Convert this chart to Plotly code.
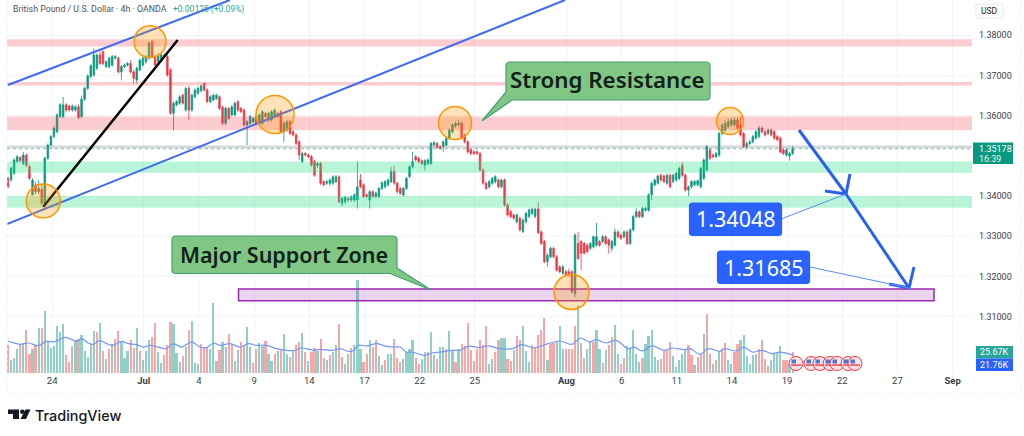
import plotly.graph_objects as go

# ---------- data ----------
opens = [1.3444,1.3440,1.3457,1.3486,1.3496,1.3481,1.3502,1.3473,1.3403,1.3428,1.3411,1.3417,1.3378,1.3494,1.3527,1.3548,1.3560,1.3598,1.3598,1.3627,1.3624,1.3614,1.3614,1.3622,1.3598,1.3641,1.3668,1.3697,1.3701,1.3718,1.3751,1.3759,1.3722,1.3722,1.3726,1.3743,1.3743,1.3709,1.3722,1.3726,1.3730,1.3709,1.3689,1.3714,1.3726,1.3734,1.3743,1.3784,1.3747,1.3734,1.3738,1.3747,1.3747,1.3714,1.3606,1.3627,1.3631,1.3651,1.3614,1.3668,1.3614,1.3647,1.3656,1.3662,1.3680,1.3664,1.3635,1.3639,1.3643,1.3647,1.3621,1.3581,1.3618,1.3602,1.3602,1.3635,1.3618,1.3614,1.3577,1.3581,1.3585,1.3598,1.3581,1.3581,1.3606,1.3589,1.3589,1.3598,1.3606,1.3610,1.3560,1.3564,1.3585,1.3560,1.3552,1.3535,1.3486,1.3506,1.3502,1.3498,1.3486,1.3477,1.3481,1.3436,1.3432,1.3432,1.3432,1.3436,1.3448,
1.3382,1.3386,1.3394,1.3390,1.3390,1.3390,1.3440,1.3428,1.3403,1.3390,1.3411,1.3399,1.3399,1.3419,1.3423,1.3428,1.3436,1.3461,1.3432,1.3419,1.3403,1.3419,1.3449,1.3473,1.3498,1.3494,1.3488,1.3477,1.3481,1.3481,1.3527,1.3531,1.3523,1.3523,1.3527,1.3544,1.3560,1.3574,1.3577,1.3582,1.3552,1.3535,1.3515,1.3510,1.3510,1.3506,1.3465,1.3432,1.3423,1.3432,1.3436,1.3440,1.3423,1.3440,1.3378,1.3361,1.3353,1.3336,1.3345,1.3312,1.3336,1.3349,1.3357,1.3349,1.3368,1.3311,1.3287,1.3237,1.3249,1.3270,1.3249,1.3224,1.3208,1.3212,1.3212,1.3212,1.3158,1.3282,1.3287,1.3282,1.3278,1.3270,1.3274,1.3278,1.3287,1.3287,1.3299,1.3291,1.3270,1.3278,1.3311,1.3303,1.3299,1.3311,1.3282,1.3316,1.3349,1.3361,1.3349,1.3365,1.3365,1.3403,1.3428,1.3432,1.3452,1.3450,1.3432,1.3452,1.3436,1.3440,1.3444,
1.3477,1.3452,1.3415,1.3423,1.3428,1.3428,1.3423,1.3444,1.3465,1.3515,1.3502,1.3498,1.3502,1.3556,1.3564,1.3573,1.3577,1.3577,1.3589,1.3577,1.3556,1.3523,1.3531,1.3535,1.3544,1.3548,1.3569,1.3560,1.3556,1.3564,1.3560,1.3548,1.3544,1.3515,1.3502,1.3500,1.3506]
closes = [1.3423,1.3469,1.3490,1.3498,1.3488,1.3502,1.3476,1.3444,1.3440,1.3411,1.3419,1.3382,1.3494,1.3527,1.3548,1.3569,1.3602,1.3627,1.3627,1.3614,1.3614,1.3624,1.3622,1.3596,1.3641,1.3668,1.3699,1.3724,1.3751,1.3751,1.3730,1.3730,1.3734,1.3743,1.3747,1.3747,1.3709,1.3722,1.3726,1.3730,1.3709,1.3693,1.3718,1.3738,1.3743,1.3747,1.3780,1.3747,1.3726,1.3751,1.3751,1.3751,1.3701,1.3606,1.3631,1.3635,1.3647,1.3631,1.3668,1.3614,1.3651,1.3664,1.3668,1.3674,1.3664,1.3635,1.3647,1.3651,1.3651,1.3618,1.3581,1.3618,1.3593,1.3622,1.3631,1.3614,1.3610,1.3577,1.3585,1.3598,1.3593,1.3581,1.3602,1.3610,1.3598,1.3606,1.3610,1.3614,1.3598,1.3560,1.3581,1.3585,1.3556,1.3552,1.3531,1.3502,1.3506,1.3502,1.3498,1.3477,1.3452,1.3481,1.3432,1.3428,1.3436,1.3440,1.3448,1.3448,1.3386,
1.3394,1.3397,1.3390,1.3398,1.3403,1.3423,1.3423,1.3399,1.3399,1.3411,1.3399,1.3407,1.3419,1.3433,1.3436,1.3440,1.3461,1.3432,1.3411,1.3407,1.3419,1.3444,1.3473,1.3486,1.3490,1.3486,1.3481,1.3488,1.3490,1.3531,1.3533,1.3521,1.3519,1.3535,1.3544,1.3564,1.3577,1.3581,1.3581,1.3544,1.3535,1.3510,1.3506,1.3506,1.3506,1.3465,1.3432,1.3419,1.3436,1.3444,1.3448,1.3423,1.3440,1.3378,1.3353,1.3349,1.3345,1.3353,1.3316,1.3340,1.3357,1.3365,1.3367,1.3367,1.3309,1.3282,1.3237,1.3253,1.3270,1.3249,1.3216,1.3212,1.3224,1.3204,1.3204,1.3162,1.3303,1.3245,1.3258,1.3258,1.3262,1.3282,1.3299,1.3299,1.3278,1.3299,1.3282,1.3278,1.3287,1.3311,1.3299,1.3295,1.3311,1.3282,1.3316,1.3349,1.3361,1.3349,1.3369,1.3369,1.3403,1.3432,1.3440,1.3450,1.3440,1.3436,1.3452,1.3423,1.3452,1.3457,1.3469,
1.3452,1.3415,1.3423,1.3436,1.3436,1.3438,1.3469,1.3490,1.3523,1.3494,1.3498,1.3506,1.3556,1.3577,1.3581,1.3585,1.3589,1.3589,1.3569,1.3552,1.3523,1.3531,1.3535,1.3548,1.3560,1.3569,1.3560,1.3552,1.3564,1.3552,1.3544,1.3540,1.3510,1.3506,1.3515,1.3506,1.3518]
highs = [1.3448,1.3473,1.3494,1.3502,1.3500,1.3510,1.3506,1.3478,1.3444,1.3436,1.3440,1.3430,1.3498,1.3531,1.3552,1.3575,1.3606,1.3631,1.3647,1.3631,1.3628,1.3628,1.3626,1.3628,1.3650,1.3672,1.3703,1.3728,1.3767,1.3755,1.3767,1.3763,1.3738,1.3747,1.3751,1.3751,1.3747,1.3726,1.3730,1.3734,1.3738,1.3714,1.3722,1.3742,1.3747,1.3751,1.3784,1.3788,1.3751,1.3755,1.3755,1.3755,1.3751,1.3718,1.3635,1.3639,1.3651,1.3655,1.3672,1.3674,1.3655,1.3668,1.3672,1.3678,1.3684,1.3668,1.3651,1.3655,1.3655,1.3651,1.3625,1.3622,1.3622,1.3626,1.3635,1.3639,1.3622,1.3618,1.3589,1.3602,1.3597,1.3602,1.3606,1.3614,1.3610,1.3610,1.3614,1.3618,1.3610,1.3614,1.3585,1.3589,1.3589,1.3564,1.3556,1.3539,1.3510,1.3510,1.3506,1.3502,1.3490,1.3485,1.3485,1.3440,1.3440,1.3444,1.3452,1.3452,1.3452,
1.3398,1.3401,1.3398,1.3402,1.3407,1.3486,1.3455,1.3432,1.3407,1.3415,1.3415,1.3411,1.3423,1.3437,1.3440,1.3444,1.3473,1.3475,1.3436,1.3423,1.3423,1.3448,1.3477,1.3510,1.3502,1.3498,1.3492,1.3492,1.3494,1.3535,1.3537,1.3535,1.3527,1.3539,1.3548,1.3568,1.3581,1.3585,1.3591,1.3586,1.3556,1.3539,1.3519,1.3514,1.3514,1.3510,1.3469,1.3436,1.3440,1.3448,1.3452,1.3444,1.3444,1.3444,1.3382,1.3365,1.3357,1.3357,1.3349,1.3344,1.3361,1.3369,1.3371,1.3371,1.3384,1.3315,1.3291,1.3257,1.3274,1.3274,1.3253,1.3228,1.3228,1.3216,1.3220,1.3216,1.3307,1.3311,1.3291,1.3286,1.3282,1.3286,1.3303,1.3333,1.3291,1.3303,1.3303,1.3295,1.3291,1.3320,1.3315,1.3307,1.3315,1.3315,1.3320,1.3353,1.3370,1.3365,1.3373,1.3373,1.3407,1.3436,1.3444,1.3454,1.3456,1.3454,1.3456,1.3456,1.3456,1.3461,1.3473,
1.3485,1.3456,1.3427,1.3440,1.3440,1.3442,1.3473,1.3494,1.3527,1.3519,1.3506,1.3510,1.3560,1.3581,1.3589,1.3593,1.3595,1.3597,1.3597,1.3598,1.3560,1.3535,1.3539,1.3552,1.3564,1.3575,1.3573,1.3564,1.3568,1.3568,1.3564,1.3552,1.3548,1.3519,1.3519,1.3510,1.3525]
lows = [1.3419,1.3436,1.3453,1.3482,1.3484,1.3477,1.3472,1.3440,1.3403,1.3405,1.3405,1.3378,1.3374,1.3490,1.3523,1.3544,1.3556,1.3594,1.3594,1.3610,1.3610,1.3610,1.3610,1.3592,1.3594,1.3637,1.3664,1.3693,1.3697,1.3714,1.3726,1.3726,1.3718,1.3718,1.3722,1.3739,1.3705,1.3688,1.3718,1.3722,1.3705,1.3680,1.3680,1.3710,1.3722,1.3730,1.3739,1.3743,1.3722,1.3730,1.3734,1.3743,1.3697,1.3602,1.3564,1.3623,1.3627,1.3627,1.3610,1.3589,1.3610,1.3643,1.3652,1.3658,1.3660,1.3631,1.3631,1.3635,1.3639,1.3614,1.3577,1.3577,1.3589,1.3598,1.3598,1.3610,1.3606,1.3573,1.3527,1.3577,1.3581,1.3577,1.3577,1.3577,1.3594,1.3585,1.3585,1.3594,1.3594,1.3556,1.3535,1.3560,1.3552,1.3548,1.3527,1.3490,1.3482,1.3498,1.3494,1.3473,1.3448,1.3470,1.3428,1.3424,1.3428,1.3425,1.3428,1.3432,1.3382,
1.3375,1.3380,1.3386,1.3386,1.3386,1.3369,1.3419,1.3395,1.3395,1.3369,1.3395,1.3395,1.3395,1.3415,1.3419,1.3424,1.3432,1.3428,1.3407,1.3403,1.3399,1.3415,1.3445,1.3469,1.3486,1.3482,1.3477,1.3464,1.3477,1.3477,1.3523,1.3517,1.3515,1.3510,1.3523,1.3540,1.3556,1.3570,1.3573,1.3540,1.3531,1.3506,1.3502,1.3502,1.3502,1.3461,1.3428,1.3415,1.3419,1.3428,1.3432,1.3419,1.3419,1.3374,1.3349,1.3345,1.3341,1.3332,1.3312,1.3308,1.3332,1.3345,1.3353,1.3345,1.3305,1.3278,1.3233,1.3225,1.3245,1.3245,1.3212,1.3208,1.3204,1.3200,1.3200,1.3158,1.3149,1.3241,1.3216,1.3254,1.3258,1.3266,1.3270,1.3274,1.3274,1.3283,1.3278,1.3257,1.3262,1.3274,1.3295,1.3291,1.3295,1.3278,1.3278,1.3312,1.3345,1.3345,1.3345,1.3361,1.3361,1.3390,1.3424,1.3428,1.3436,1.3432,1.3428,1.3419,1.3432,1.3436,1.3440,
1.3448,1.3411,1.3400,1.3419,1.3424,1.3424,1.3419,1.3440,1.3461,1.3490,1.3494,1.3494,1.3498,1.3552,1.3560,1.3569,1.3573,1.3573,1.3565,1.3548,1.3519,1.3519,1.3527,1.3531,1.3540,1.3544,1.3556,1.3548,1.3552,1.3548,1.3540,1.3536,1.3506,1.3502,1.3498,1.3488,1.3502]

volumes_k = [33.8,15.5,18.3,29.7,35.8,35.8,52.9,22.8,29.7,33.8,54.9,54.9,75.7,37.9,30.5,33.0,57.0,50.1,60.2,21.6,13.0,32.6,40.7,41.9,46.8,26.9,19.1,35.8,51.3,50.1,61.1,26.9,17.1,29.7,35.8,41.9,51.3,38.7,17.9,26.5,39.9,30.5,54.9,26.5,15.5,26.9,39.9,44.0,61.1,26.0,12.2,21.6,33.8,61.9,59.4,24.4,13.0,20.8,31.7,52.1,63.5,12.2,11.0,35.0,31.7,30.9,28.9,85.5,14.2,28.1,37.9,31.7,47.2,35.8,14.2,28.1,37.4,33.0,56.6,32.2,11.8,29.7,36.6,33.0,38.7,23.6,14.2,22.8,26.9,28.5,48.0,22.8,19.1,27.7,33.8,37.4,48.8,25.6,14.2,25.2,30.1,26.9,41.9,18.7,15.5,21.6,25.6,33.8,59.4,19.5,11.4,22.8,30.9,34.6,113.6,29.7,13.4,22.8,39.9,31.7,39.9,20.4,10.2,16.3,23.6,22.8,41.1,18.3,
13.4,17.5,25.6,29.7,39.9,18.7,10.6,16.7,25.6,25.6,50.1,21.6,17.5,31.7,31.7,29.7,51.3,28.5,13.4,29.7,35.0,32.6,61.1,28.5,14.2,29.7,39.9,33.8,57.4,11.4,17.5,25.6,40.7,43.1,43.1,17.5,14.2,27.7,44.8,39.9,57.0,26.9,13.4,33.8,31.7,46.0,52.9,67.2,15.5,35.8,36.6,37.9,57.0,29.7,29.7,29.7,29.7,57.0,83.0,36.6,18.7,29.7,37.9,37.9,52.9,29.7,12.6,27.7,33.8,44.0,58.2,22.8,11.4,18.7,32.6,29.7,52.1,23.6,13.4,18.7,35.8,44.8,52.9,19.5,15.5,16.7,26.9,27.7,37.9,20.4,7.3,15.5,22.8,27.7,33.8,21.6,9.4,19.5,23.6,47.2,71.6,22.8,11.4,16.3,25.6,29.7,36.6,16.3,11.4,25.6,35.0,39.9,46.0,20.4,11.4,21.6,22.8,29.7,39.9,17.5,8.1,16.3,24.4,24.4,32.6,15.5,15.5,11.4,25.67]
volume_dirs = "RGGGRGRRGRGRGGGGGGGRRRGRGGGGGRGRGRGRRGGGRRGRGGGRRGGRRRGGGRGRGGGRRRGGGRGGRRGGRRGGRRGGRGGRGRGGRGRRGRGRRGRRGRGGRRGGRGGGRRGRRGGRGGRR" \
              "RGGGGRRGGRGGRGGRGGRGRRRRRRRRRGGRRGGRRGRRGGGRRRRRGRRGGGRRRRGRRGGRGGRGRRGGRRGGGGGRGGGGGRRRRGGGGGRRGRRGRRGRGRRGGRRGGGGGGRRRRGGGGRRGRGRRRGRG"

ma_index = [0,1.7,3.9,6.6,9.3,10.4,12.4,14.8,16.4,18.6,20.8,22.6,24,26.2,27.8,30,32.2,34.3,37,39.2,42,44.1,46.3,49,51.7,53.9,56.6,59.9,62.6,64.8,67,69.1,72.4,75.7,78.4,81.1,84.3,87.6,90.9,93.6,95.8,99.6,101.7,106.1,108.3,111.5,112.8,114.2,117,120.2,123.5,126.7,127.9,129.9,131.8,135.7,138.3,141,144.9,147.5,150.1,154,156.6,160.5,164.5,167.7,171.6,176.2,180.1,184,186.6,189.9,191.9,195.1,198.4,202.3,204.3,206.9,210.1,214.1,216.7,220.6,222.5,225.8,228.4,232.3,233.6,237.6,240.2,242.8,246,249.3,251.9,256.2]
ma_values = [39.1,37.0,35.0,36.6,33.8,33.8,38.7,37.9,39.9,43.5,40.7,38.7,41.9,36.6,35.0,39.5,35.8,33.8,38.7,35.8,34.6,31.7,33.8,31.7,29.7,35.8,31.7,37.9,31.7,30.9,36.6,33.8,35.8,31.7,35.8,33.8,33.8,29.7,27.7,27.7,30.5,27.7,28.9,27.7,29.7,26.0,27.7,33.8,33.0,35.8,32.6,31.7,31.7,25.6,25.6,21.6,24.4,25.6,27.7,27.7,32.6,31.0,33.0,29.7,29.7,34.6,30.5,35.8,39.1,35.0,42.7,37.9,40.7,36.6,39.9,29.7,31.7,26.9,33.0,27.7,30.5,28.5,29.7,22.8,29.7,26.5,29.7,26.9,31.7,25.6,27.7,23.6,25.6,21.76]

date_labels = ["24","<b>Jul</b>","4","9","14","17","22","25","<b>Aug</b>","6","11","14","19","22","27","<b>Sep</b>"]
date_bars = [14.4,44.3,62.3,80.3,98.3,116.3,134.3,152.3,182.2,200.2,218.2,236.2,254.2,272.2,290.2,308.2]
price_ticks = [1.31,1.32,1.33,1.34,1.36,1.37,1.38]
last_price = 1.35178

resistance_zones = [(1.3790,1.3772),(1.3684,1.3675),(1.3598,1.3564)]
support_zones = [(1.3486,1.3458),(1.3400,1.3371)]

# ---------- pixel <-> axis mapping ----------
W, H = 1024, 436
L, R, T, B = 7, 972, 0, 373
BAR_PX = 3.065
def X(px): return (px - 8) / BAR_PX
def Y(py): return 1.36 + (115.7 - py) / 4020
def PX(px): return (px - L) / (R - L)
def PY(py): return 1 - (py - T) / (B - T)

UP, DOWN = "#089981", "#f23645"
BLUE = "#2962ff"
fig = go.Figure()

fig.add_trace(go.Bar(
    x=list(range(len(volumes_k))), y=volumes_k, yaxis="y", width=0.72,
    marker=dict(color=["#8fd1c8" if d == "G" else "#fba6a6" for d in volume_dirs], line_width=0),
    hoverinfo="skip", showlegend=False))
fig.add_trace(go.Scatter(x=ma_index, y=ma_values, yaxis="y", mode="lines",
    line=dict(color="#7396f5", width=1.2, shape="spline"), hoverinfo="skip", showlegend=False))
fig.add_trace(go.Candlestick(
    x=list(range(len(opens))), open=opens, high=highs, low=lows, close=closes, yaxis="y2",
    increasing=dict(line=dict(color=UP, width=0.8), fillcolor=UP),
    decreasing=dict(line=dict(color=DOWN, width=0.8), fillcolor=DOWN),
    whiskerwidth=0, hoverinfo="skip", showlegend=False))

shapes = []
def dshape(**k):
    k.setdefault("xref", "x"); k.setdefault("yref", "y2")
    shapes.append(k)
x_lo, x_hi = X(L), X(R)

# horizontal zones
for a, b in resistance_zones:
    dshape(type="rect", x0=x_lo, x1=x_hi, y0=a, y1=b, fillcolor="rgba(242,54,69,0.25)", line_width=0)
for a, b in support_zones:
    dshape(type="rect", x0=x_lo, x1=x_hi, y0=a, y1=b, fillcolor="rgba(22,222,125,0.3)", line_width=0)
# current price band and dotted line
dshape(type="rect", x0=x_lo, x1=x_hi, y0=1.3526, y1=1.3519, fillcolor="rgba(120,123,134,0.3)", line_width=0)
dshape(type="line", x0=x_lo, x1=x_hi, y0=last_price, y1=last_price, line=dict(color="#46b5a3", width=0.8, dash="dot"))
# purple zone
dshape(type="rect", x0=X(238.5), x1=X(934), y0=Y(289), y1=Y(300.7), fillcolor="rgba(156,39,176,0.2)",
       line=dict(color="#9c27b0", width=1.5))
# channels
for p in [((8, 85), (230, 0)), ((7, 224), (565, 0))]:
    dshape(type="line", x0=X(p[0][0]), y0=Y(p[0][1]), x1=X(p[1][0]), y1=Y(p[1][1]), line=dict(color="#3f6bf0", width=2))
dshape(type="line", x0=X(43.3), y0=Y(206.7), x1=X(177.7), y1=Y(40), line=dict(color="#000000", width=2.5))
# orange circles
for cx, cy, r in [(43.3, 201, 17), (150, 41.7, 16), (275, 114.5, 19), (455, 123, 16.5), (571.5, 292, 17.5), (730, 121, 13.5)]:
    dshape(type="circle", x0=X(cx - r), x1=X(cx + r), y0=Y(cy + r), y1=Y(cy - r),
           fillcolor="rgba(255,152,0,0.28)", line=dict(color="#ff9800", width=1.5))
# forecast arrows
ARW = "#2b62ea"
for a, b, w in [((799, 130), (846, 194), 3), ((846, 194), (909, 288), 3),
                ((846, 194), (850, 174), 3), ((846, 194), (825, 191), 3),
                ((909, 288), (914, 267), 3), ((909, 288), (889, 284), 3),
                ((781, 219), (846, 194), 1), ((810, 267), (909, 288), 1)]:
    dshape(type="line", x0=X(a[0]), y0=Y(a[1]), x1=X(b[0]), y1=Y(b[1]), line=dict(color=ARW if w > 1 else "#5b8cf5", width=w))
# callouts with pointers
GREENF, GREENL = "#81c784", "#43a070"
def box(x0, y0, x1, y1, r, fill=GREENF, line=GREENL):
    pts = (f"M{X(x0+r)},{Y(y0)} L{X(x1-r)},{Y(y0)} Q{X(x1)},{Y(y0)} {X(x1)},{Y(y0+r)} L{X(x1)},{Y(y1-r)} "
           f"Q{X(x1)},{Y(y1)} {X(x1-r)},{Y(y1)} L{X(x0+r)},{Y(y1)} Q{X(x0)},{Y(y1)} {X(x0)},{Y(y1-r)} "
           f"L{X(x0)},{Y(y0+r)} Q{X(x0)},{Y(y0)} {X(x0+r)},{Y(y0)} Z")
    dshape(type="path", path=pts, fillcolor=fill, line=dict(color=line, width=1.2))
def corner(px, py):
    return f"{X(px)},{Y(py)}"
strong_path = ("M" + corner(510, 62) + " L" + corner(706, 62) + " Q" + corner(710, 62) + " " + corner(710, 66) +
               " L" + corner(710, 96) + " Q" + corner(710, 100) + " " + corner(706, 100) + " L" + corner(512, 100) +
               " L" + corner(482, 121) + " L" + corner(506, 92) + " L" + corner(506, 66) +
               " Q" + corner(506, 62) + " " + corner(510, 62) + " Z")
major_path = ("M" + corner(176, 236) + " L" + corner(393, 236) + " Q" + corner(397, 236) + " " + corner(397, 240) +
              " L" + corner(397, 268) + " L" + corner(431, 290) + " L" + corner(390, 273.5) + " L" + corner(176, 273.5) +
              " Q" + corner(172, 273.5) + " " + corner(172, 269.5) + " L" + corner(172, 240) +
              " Q" + corner(172, 236) + " " + corner(176, 236) + " Z")
for pth in [strong_path, major_path]:
    dshape(type="path", path=pth, fillcolor=GREENF, line=dict(color=GREENL, width=1.2))
box(689.5, 203, 781.5, 235.5, 3, fill=BLUE, line=BLUE)
box(717.5, 251, 809.5, 283.5, 3, fill=BLUE, line=BLUE)

# pixel (paper) furniture
def pshape(**k):
    k["xref"] = "paper"; k["yref"] = "paper"; shapes.append(k)
pshape(type="line", x0=PX(7), x1=PX(1021), y0=PY(393), y1=PY(393), line=dict(color="#eef0f5", width=1, dash="dot"))
pshape(type="line", x0=PX(7), x1=PX(7), y0=PY(0), y1=PY(393), line=dict(color="#eef0f5", width=1, dash="dot"))
pshape(type="line", x0=PX(1021), x1=PX(1021), y0=PY(0), y1=PY(393), line=dict(color="#eef0f5", width=1, dash="dot"))
def label_box(x0, y0, x1, y1, color):
    pshape(type="rect", x0=PX(x0), x1=PX(x1), y0=PY(y1), y1=PY(y0), fillcolor=color, line_width=0)
label_box(973, 142.5, 1013, 164, UP)
label_box(976, 346, 1013, 358.5, "#26a69a")
label_box(976, 358.5, 1013, 371, BLUE)
pshape(type="rect", x0=PX(976), x1=PX(1003), y0=PY(18), y1=PY(4), line=dict(color="#e6e8ee", width=1), fillcolor="rgba(0,0,0,0)")
for cx in [796, 811, 820, 830, 837, 848, 855]:
    pshape(type="circle", x0=PX(cx - 7), x1=PX(cx + 7), y0=PY(370.5), y1=PY(356.5), fillcolor="#fbe3e5",
           line=dict(color="#f23645", width=1))
    pshape(type="rect", x0=PX(cx - 4.5), x1=PX(cx), y0=PY(363.5), y1=PY(359.5), fillcolor="#4a78d8", line_width=0)
    pshape(type="rect", x0=PX(cx - 5), x1=PX(cx + 5), y0=PY(366), y1=PY(364.2), fillcolor="#f0606a", line_width=0)
def path_px(pts):
    return "M" + " L".join(f"{PX(a)},{PY(b)}" for a, b in pts) + " Z"
pshape(type="path", path=path_px([(8, 409.5), (19, 409.5), (19, 419), (13, 419), (13, 414), (8, 414)]), fillcolor="#131722", line_width=0)
pshape(type="circle", x0=PX(20), x1=PX(24.6), y0=PY(414), y1=PY(409.5), fillcolor="#131722", line_width=0)
pshape(type="path", path=path_px([(25.5, 409.5), (30.5, 409.5), (26, 419), (20.5, 419)]), fillcolor="#131722", line_width=0)

annots = []
def text(x, y, s, size, color="#131722", anchor="center", family="Roboto", weight=None):
    f = dict(size=size, color=color, family=family)
    if weight: f["weight"] = weight
    annots.append(dict(xref="paper", yref="paper", x=PX(x), y=PY(y), text=s, showarrow=False,
                       xanchor=anchor, yanchor="middle", font=f, borderpad=0, borderwidth=0))
text(13, 9, "British Pound / U.S. Dollar · 4h · OANDA", 8.8, "#50535e", "left")
text(172.5, 9, "+0.00125 (+0.09%)", 8.5, "#26a69a", "left")
text(989.5, 11, "USD", 8.5)
text(979, 148.7, f"{last_price:.5f}", 9, "#ffffff", "left")
text(979, 158.6, "16:39", 9, "#e6f5f2", "left")
text(994.5, 352.2, "25.67K", 9, "#ffffff")
text(994.5, 364.8, "21.76K", 9, "#ffffff")
text(607.5, 79, "Strong Resistance", 22.3, "#10201a", family="Noto Sans", weight=600)
text(283.5, 254, "Major Support Zone", 21.5, "#10201a", family="Noto Sans", weight=600)
text(735.5, 219, "1.34048", 21.5, "#ffffff", family="Noto Sans")
text(763.5, 267, "1.31685", 21.5, "#ffffff", family="Noto Sans")
text(35, 415, "TradingView", 14.4, "#131722", "left", family="Inter", weight=500)

fig.update_layout(
    width=W, height=H, margin=dict(l=L, r=W - R, t=T, b=H - B, pad=0, autoexpand=False),
    paper_bgcolor="white", plot_bgcolor="white", showlegend=False, barmode="overlay", bargap=0,
    shapes=shapes, annotations=annots,
    xaxis=dict(range=[x_lo, x_hi], rangeslider_visible=False, tickmode="array", tickvals=date_bars, ticktext=date_labels,
               showgrid=True, gridcolor="#f3f4f8", gridwidth=1, zeroline=False, showline=False, ticks="",
               tickfont=dict(size=9.5, color="#3a3e4a", family="Roboto")),
    yaxis=dict(range=[0, (B - T) * 1.221], visible=False, fixedrange=True),
    yaxis2=dict(range=[Y(B), Y(T)], overlaying="y", side="right", tickmode="array", tickvals=price_ticks,
                ticktext=[f"{v:.5f}" for v in price_ticks], showgrid=True, gridcolor="#f3f4f8", gridwidth=1,
                zeroline=False, showline=False, ticks="", ticklabelstandoff=6,
                tickfont=dict(size=9, color="#3a3e4a", family="Roboto")),
)
fig.write_html("out.html", config=dict(displayModeBar=False, staticPlot=True),
               post_script="document.body.style.margin='0';document.body.style.overflow='hidden';")
